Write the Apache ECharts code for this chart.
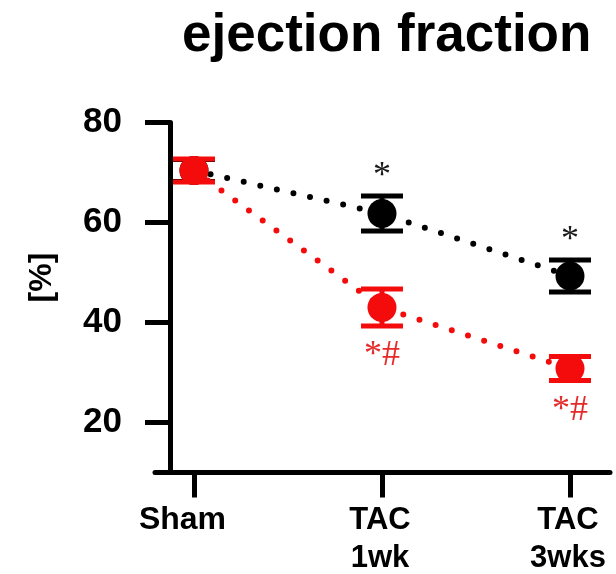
<!DOCTYPE html>
<html>
<head>
<meta charset="utf-8">
<script src="https://cdn.jsdelivr.net/npm/echarts@6/dist/echarts.min.js"></script>
<style>
  html, body { margin: 0; padding: 0; background: #fff; }
  #chart { width: 616px; height: 574px; }
</style>
</head>
<body>
<div id="chart"></div>
<script>
// Groups along the x axis
const categories = ['Sham', 'TAC\n1wk', 'TAC\n3wks'];

// Ejection fraction [%], mean and error per group
const blackMean = [70.4, 61.8, 49.3];
const blackErr = [2.2, 3.5, 3.2];
const redMean = [70.4, 43.0, 30.8];
const redErr = [2.3, 3.7, 2.4];

// Significance marks drawn beside each point
const blackMarks = ['', '*', '*'];
const redMarks = ['', '*#', '*#'];

// Y axis tick labels
const yTicks = [20, 40, 60, 80];

const BLACK = '#000000';
const RED = '#f40c0c';

const chart = echarts.init(document.getElementById('chart'), null, { renderer: 'canvas' });

const points = (means) => means.map((v, i) => [i, v]);
const bars = (means, errs) => means.map((v, i) => [i, v, errs[i]]);
const marks = (means, errs, labels) => means.map((v, i) => [i, v, errs[i], labels[i]]);

function errorBars(color) {
  return function (params, api) {
    const x = api.value(0), m = api.value(1), e = api.value(2);
    const hi = api.coord([x, m + e]);
    const lo = api.coord([x, m - e]);
    const half = 21;
    const st = { stroke: color, lineWidth: 5 };
    return {
      type: 'group',
      children: [
        { type: 'line', shape: { x1: hi[0], y1: hi[1], x2: lo[0], y2: lo[1] }, style: st },
        { type: 'line', shape: { x1: hi[0] - half, y1: hi[1], x2: hi[0] + half, y2: hi[1] }, style: st },
        { type: 'line', shape: { x1: lo[0] - half, y1: lo[1], x2: lo[0] + half, y2: lo[1] }, style: st }
      ]
    };
  };
}

function sigText(color, above) {
  return function (params, api) {
    const x = api.value(0), m = api.value(1), e = api.value(2);
    const label = api.value(3);
    if (!label) return null;
    const p = above ? api.coord([x, m + e]) : api.coord([x, m - e]);
    return {
      type: 'text',
      x: p[0],
      y: above ? p[1] - 19 : p[1] + 30,
      style: {
        text: label,
        fill: color,
        font: '36px "Liberation Serif", "Times New Roman", serif',
        align: 'center',
        verticalAlign: 'middle'
      }
    };
  };
}

const dotted = (color) => ({ color: color, width: 6, type: [0, 17], cap: 'round' });

chart.setOption({
  animation: false,
  backgroundColor: '#ffffff',
  title: {
    text: 'ejection fraction',
    left: 182,
    top: 10,
    padding: 0,
    textStyle: {
      fontFamily: '"Liberation Sans", Arial, sans-serif',
      fontWeight: 'bold',
      fontSize: 53,
      color: '#000'
    }
  },
  grid: {
    left: 155,
    top: 122.5,
    width: 455,
    height: 350,
    containLabel: false,
    outerBoundsMode: 'none'
  },
  xAxis: {
    type: 'value',
    min: -0.2074,
    max: 2.2128,
    splitLine: { show: false },
    axisLine: { show: true, onZero: false, lineStyle: { color: BLACK, width: 5 } },
    axisTick: { show: true, customValues: [0, 1, 2], length: 25, lineStyle: { color: BLACK, width: 5 } },
    axisLabel: {
      customValues: [0, 1, 2],
      margin: 29,
      formatter: (v) => {
        const name = categories[Math.round(v)];
        const key = Math.round(v) === 0 ? 'a' : 'b';
        return name.split('\n').map((s) => '{' + key + '|' + s + '}').join('\n');
      },
      rich: {
        a: { fontFamily: '"Liberation Sans", Arial, sans-serif', fontWeight: 'bold', fontSize: 32, lineHeight: 38, color: '#000', padding: [0, 23, 0, 0] },
        b: { fontFamily: '"Liberation Sans", Arial, sans-serif', fontWeight: 'bold', fontSize: 31, lineHeight: 38, color: '#000', padding: [0, 4, 0, 0] }
      }
    }
  },
  yAxis: {
    type: 'value',
    min: 10,
    max: 80,
    offset: -15,
    name: '[%]',
    nameLocation: 'middle',
    nameRotate: 90,
    nameGap: 112,
    nameTextStyle: {
      fontFamily: '"Liberation Sans", Arial, sans-serif',
      fontWeight: 'bold',
      fontSize: 32,
      color: '#000',
      padding: [0, 0, 0, 40]
    },
    splitLine: { show: false },
    axisLine: { show: true, onZero: false, lineStyle: { color: BLACK, width: 5 } },
    axisTick: { show: true, customValues: yTicks, length: 25, lineStyle: { color: BLACK, width: 5 } },
    axisLabel: {
      customValues: yTicks,
      margin: 48,
      fontFamily: '"Liberation Sans", Arial, sans-serif',
      fontWeight: 'bold',
      fontSize: 35,
      color: '#000'
    }
  },
  series: [
    {
      name: 'groupA error',
      type: 'custom',
      z: 2,
      renderItem: errorBars(BLACK),
      data: bars(blackMean, blackErr)
    },
    {
      name: 'groupA',
      type: 'line',
      z: 3,
      data: points(blackMean),
      symbol: 'circle',
      symbolSize: 29,
      showAllSymbol: true,
      itemStyle: { color: BLACK },
      lineStyle: dotted(BLACK)
    },
    {
      name: 'groupB error',
      type: 'custom',
      z: 4,
      renderItem: errorBars(RED),
      data: bars(redMean, redErr)
    },
    {
      name: 'groupB',
      type: 'line',
      z: 5,
      data: points(redMean),
      symbol: 'circle',
      symbolSize: 29,
      showAllSymbol: true,
      itemStyle: { color: RED },
      lineStyle: dotted(RED)
    },
    {
      name: 'groupA marks',
      type: 'custom',
      z: 6,
      renderItem: sigText('#1a1a1a', true),
      data: marks(blackMean, blackErr, blackMarks)
    },
    {
      name: 'groupB marks',
      type: 'custom',
      z: 6,
      renderItem: sigText('#e52a2a', false),
      data: marks(redMean, redErr, redMarks)
    }
  ]
});
</script>
</body>
</html>
